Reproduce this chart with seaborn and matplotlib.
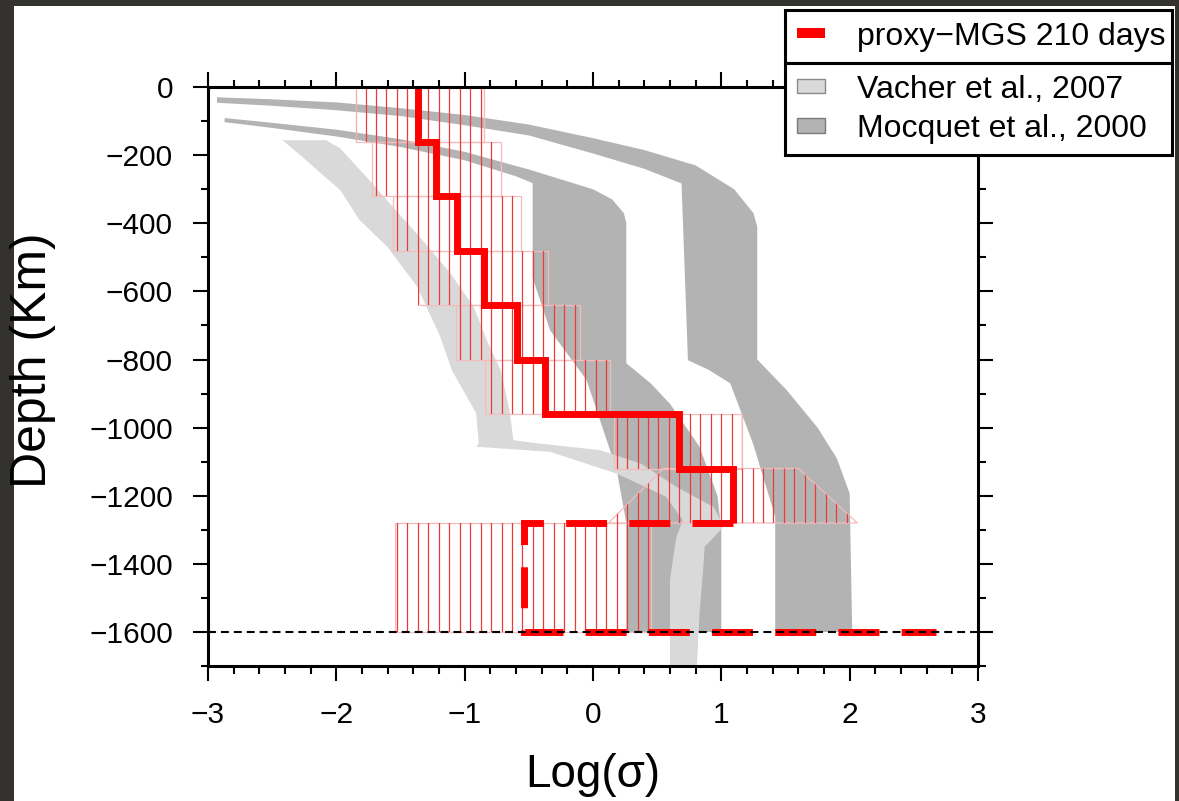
import numpy as np
import matplotlib
matplotlib.use('Agg')
import matplotlib.pyplot as plt
import seaborn as sns
from matplotlib.patches import Polygon, Rectangle, Patch
from matplotlib.lines import Line2D
from matplotlib.ticker import MultipleLocator

# proxy-MGS 210 days : layered conductivity model (160 km layers)
layer_top = [0, -160, -320, -480, -640, -800, -960, -1120, -1280]
layer_bot = [-160, -320, -480, -640, -800, -960, -1120, -1280, -1600]
log_sigma = [-1.36, -1.22, -1.06, -0.85, -0.59, -0.37, 0.67, 1.09, -0.54]
core_log_sigma = 2.67

# range of each layer, at the top and at the bottom of the layer
range_lo_top = [-1.85, -1.72, -1.56, -1.36, -1.07, -0.84, 0.16, 0.55, -1.54]
range_hi_top = [-0.85, -0.72, -0.56, -0.35, -0.10, 0.13, 1.16, 1.60, 0.45]
range_lo_bot = [-1.85, -1.72, -1.56, -1.36, -1.07, -0.84, 0.16, 0.12, -1.54]
range_hi_bot = [-0.85, -0.72, -0.56, -0.35, -0.10, 0.13, 1.16, 2.06, 0.45]

# Vacher et al., 2007 (outline of the band)
vacher_x = [-2.42, -2.08, -1.97, -1.75, -1.56, -1.35, -1.11, -0.93, -0.82, -0.72, -0.65, -0.62,
            -0.41, 0.055, 0.37, 0.65, 0.94, 1.02, 0.87, 0.86, 0.83, 0.81, 0.60, 0.60, 0.63, 0.65,
            0.70, 0.57, 0.185, -0.335, -0.91, -0.89, -0.91, -1.10, -1.19, -1.37, -1.60, -1.82,
            -1.97, -2.10, -2.28, -2.42]
vacher_depth = [-156, -156, -180, -270, -352, -440, -547, -645, -750, -831, -950, -1037,
                -1047, -1066, -1105, -1174, -1233, -1291, -1350, -1409, -1545, -1700, -1700, -1448, -1370, -1321,
                -1272, -1203, -1135, -1071, -1056, -1047, -958, -831, -733, -586, -470, -390,
                -302, -260, -200, -156]

# Mocquet et al., 2000 (two bands)
mocquet_a_x = [-2.93, -2.5, -2.0, -1.5, -1.0, -0.5, 0.0, 0.4, 0.8, 1.1, 1.25, 1.28, 1.28, 1.51,
               1.75, 1.90, 2.00, 2.02, 1.42, 1.42, 1.25, 1.07, 0.90, 0.74, 0.69, 0.4, 0.0, -0.5,
               -1.0, -1.5, -2.0, -2.5, -2.93]
mocquet_a_depth = [-30, -36, -45, -62, -82, -110, -150, -185, -230, -300, -370, -410, -800, -890,
                   -1000, -1090, -1193, -1600, -1600, -1262, -1050, -870, -830, -802, -283, -240, -195, -142,
                   -112, -85, -68, -55, -46]
mocquet_b_x = [-2.87, -2.5, -2.0, -1.5, -1.0, -0.5, 0.0, 0.15, 0.24, 0.26, 0.26, 0.45, 0.60, 0.83,
               0.97, 1.00, 1.00, 0.26, 0.26, 0.185, -0.05, -0.335, -0.47, -0.47, -0.6, -1.0, -1.5,
               -2.0, -2.5, -2.87]
mocquet_b_depth = [-91, -105, -125, -153, -190, -242, -300, -330, -370, -400, -811, -870, -930, -1056,
                   -1200, -1300, -1600, -1600, -1280, -1125, -860, -714, -560, -282, -262, -215, -176,
                   -145, -120, -103]

sns.set_theme(style='ticks')
plt.rcParams['font.family'] = ['Liberation Sans', 'DejaVu Sans']
plt.rcParams['text.color'] = 'black'
plt.rcParams['axes.labelcolor'] = 'black'
plt.rcParams['xtick.color'] = 'black'
plt.rcParams['ytick.color'] = 'black'

fig = plt.figure(figsize=(11.79, 8.01), dpi=100)
fig.patch.set_facecolor('#34322f')
fig.add_artist(Rectangle((14 / 1179, 0), 1161 / 1179, 795 / 801, transform=fig.transFigure,
                         facecolor='white', edgecolor='none', zorder=-10))
ax = fig.add_axes([0.1764, 0.1685, 0.6531, 0.7228])

light = '#d9d9d9'
dark = '#b3b3b3'

ax.fill(mocquet_a_x, mocquet_a_depth, color=dark, lw=0, zorder=1)
ax.fill(mocquet_b_x, mocquet_b_depth, color=dark, lw=0, zorder=1)
ax.fill(vacher_x, vacher_depth, color=light, lw=0, zorder=2)

# hatched ranges: vertical red lines clipped to each layer
hatch_x = -1.772 + 0.0815 * np.arange(-20, 60)
for i in range(len(layer_top)):
    verts = [(range_lo_top[i], layer_top[i]), (range_hi_top[i], layer_top[i]),
             (range_hi_bot[i], layer_bot[i]), (range_lo_bot[i], layer_bot[i])]
    poly = Polygon(verts, closed=True, facecolor='none', edgecolor='#f4bcbc', lw=0.9, zorder=3)
    ax.add_patch(poly)
    lc = ax.vlines(hatch_x, -1700, 0, colors='#ec3a3a', linewidth=0.9, zorder=3)
    lc.set_clip_path(poly)

# step profile
step_x = np.repeat(log_sigma[:8], 2)
step_y = np.column_stack([layer_top[:8], layer_bot[:8]]).ravel()
sns.lineplot(x=step_x, y=step_y, sort=False, estimator=None, color='red', linewidth=5,
             solid_joinstyle='miter', solid_capstyle='butt', ax=ax, zorder=4)

deep_x = [log_sigma[7], log_sigma[8], log_sigma[8], core_log_sigma]
deep_y = [layer_top[8], layer_top[8], layer_bot[8], layer_bot[8]]
ax.plot(deep_x, deep_y, color='red', lw=5, dashes=(5.9, 3.2), dash_joinstyle='miter', zorder=4)

ax.axhline(layer_bot[-1], color='black', lw=1.5, dashes=(3.8, 2.4), zorder=6)

ax.set_xlim(-3, 3)
ax.set_ylim(-1700, 0)
ax.xaxis.set_major_locator(MultipleLocator(1))
ax.xaxis.set_minor_locator(MultipleLocator(0.2))
ax.yaxis.set_major_locator(MultipleLocator(200))
ax.yaxis.set_minor_locator(MultipleLocator(100))
ax.tick_params(which='both', direction='out', top=True, right=True, bottom=True, left=True,
               labeltop=False, labelright=False, width=1.5, color='black')
ax.tick_params(which='major', length=10.8, labelsize=21.5, pad=14.4)
ax.tick_params(which='minor', length=5.4)
for s in ax.spines.values():
    s.set_linewidth(2.2)
    s.set_color('black')
    s.set_zorder(10)

ax.set_xlabel('Log(σ)', fontsize=33)
ax.set_ylabel('Depth (Km)', fontsize=36)
ax.xaxis.set_label_coords(0.5, -0.150)
ax.yaxis.set_label_coords(-0.197, 0.5285)

# legend, in two stacked boxes
h1 = [Line2D([], [], color='red', lw=7.2, solid_capstyle='butt')]
h2 = [Patch(facecolor=light, edgecolor='#8a8a8a', lw=1),
      Patch(facecolor=dark, edgecolor='#7a7a7a', lw=1)]
kw = dict(loc='upper left', mode='expand', fontsize=23, borderaxespad=0, borderpad=0.36,
          handlelength=0.88, handletextpad=1.0, fancybox=False, framealpha=1,
          edgecolor='black', labelspacing=0.29)
leg1 = fig.legend(h1, ['proxy−MGS 210 days'], bbox_to_anchor=(785 / 1179, 1 - 10 / 801, 387 / 1179, 0), **kw)
leg2 = fig.legend(h2, ['Vacher et al., 2007', 'Mocquet et al., 2000'], handleheight=0.34,
                  bbox_to_anchor=(785 / 1179, 1 - 63 / 801, 387 / 1179, 0), **kw)
for lg in (leg1, leg2):
    lg.get_frame().set_linewidth(2.2)

fig.savefig('out.png', dpi=100)
